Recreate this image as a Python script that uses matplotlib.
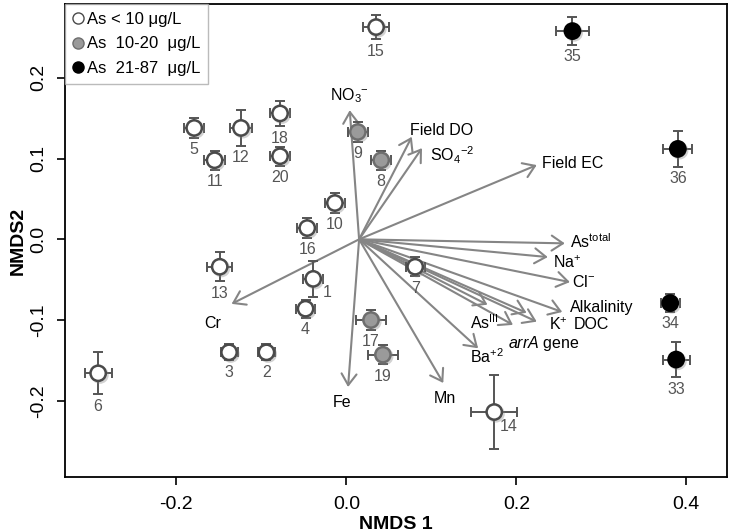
import matplotlib
matplotlib.use("Agg")
import matplotlib.pyplot as plt
import matplotlib.patheffects as pe
from matplotlib.lines import Line2D

plt.rcParams["font.family"] = ["Liberation Sans", "DejaVu Sans"]
plt.rcParams["mathtext.fontset"] = "custom"
plt.rcParams["mathtext.rm"] = "Liberation Sans"
plt.rcParams["mathtext.it"] = "Liberation Sans:italic"
plt.rcParams["mathtext.default"] = "regular"

# sample scores (NMDS 1, NMDS 2) with error half-widths
sites = ["1", "2", "3", "4", "5", "6", "7", "8", "9", "10", "11", "12",
         "13", "14", "15", "16", "17", "18", "19", "20", "33", "34", "35", "36"]
nmds1 = [-0.039, -0.094, -0.138, -0.048, -0.179, -0.292, 0.081, 0.041, 0.0135, -0.0135, -0.155, -0.124,
         -0.149, 0.174, 0.035, -0.046, 0.029, -0.078, 0.043, -0.078, 0.388, 0.381, 0.266, 0.390]
nmds2 = [-0.049, -0.140, -0.140, -0.086, 0.138, -0.166, -0.034, 0.098, 0.133, 0.045, 0.098, 0.138,
         -0.034, -0.214, 0.263, 0.014, -0.100, 0.156, -0.143, 0.103, -0.149, -0.079, 0.258, 0.112]
err1 = [0.012, 0.010, 0.010, 0.011, 0.012, 0.016, 0.011, 0.012, 0.012, 0.012, 0.012, 0.013,
        0.015, 0.027, 0.015, 0.012, 0.018, 0.012, 0.018, 0.012, 0.016, 0.011, 0.019, 0.017]
err2 = [0.022, 0.010, 0.010, 0.011, 0.012, 0.026, 0.012, 0.012, 0.012, 0.012, 0.012, 0.022,
        0.018, 0.046, 0.015, 0.012, 0.012, 0.016, 0.012, 0.012, 0.022, 0.011, 0.017, 0.022]
# As class: 0 = <10, 1 = 10-20, 2 = 21-87 ug/L
as_class = [0, 0, 0, 0, 0, 0, 0, 1, 1, 0, 0, 0,
            0, 0, 0, 0, 1, 0, 1, 0, 2, 2, 2, 2]

# environmental vectors
vec_names = ["NO$_3$$^{-}$", "Field DO", "SO$_4$$^{-2}$", "Field EC", "As$^{total}$", "Na$^{+}$",
             "Cl$^{-}$", "Alkalinity", "DOC", "K$^{+}$", "$\\mathit{arrA}$ gene", "As$^{III}$",
             "Ba$^{+2}$", "Mn", "Fe", "Cr"]
vec1 = [0.004, 0.077, 0.089, 0.224, 0.257, 0.237, 0.263, 0.254, 0.224, 0.212, 0.196, 0.166,
        0.155, 0.114, 0.002, -0.135]
vec2 = [0.160, 0.127, 0.113, 0.092, -0.005, -0.022, -0.053, -0.090, -0.102, -0.091, -0.106, -0.081,
        -0.135, -0.178, -0.183, -0.080]
vec_origin = (0.015, 0.0)

# layout: label anchors for vectors (data coords, ha)
vec_label_pos = [(0.004, 0.178, "center"), (0.075, 0.135, "left"), (0.098, 0.104, "left"),
                 (0.230, 0.094, "left"), (0.263, -0.003, "left"), (0.243, -0.029, "left"),
                 (0.266, -0.053, "left"), (0.263, -0.084, "left"), (0.268, -0.106, "left"),
                 (0.239, -0.106, "left"), (0.190, -0.129, "left"), (0.145, -0.103, "left"),
                 (0.145, -0.146, "left"), (0.116, -0.197, "center"), (-0.005, -0.202, "center"),
                 (-0.157, -0.104, "center")]
right_labels = {"1", "14"}

face = ["white", "#9a9a9a", "black"]
edge = ["#4a4a4a", "#6e6e6e", "black"]
bar_col = "#555555"

fig = plt.figure(figsize=(7.33, 5.32), dpi=100)
ax = fig.add_axes([0.0887, 0.1034, 0.9033, 0.8891])

for i, name in enumerate(vec_names):
    ax.annotate("", xy=(vec1[i], vec2[i]), xytext=vec_origin,
                arrowprops=dict(arrowstyle="->,head_length=0.45,head_width=0.3", color="#858585",
                                lw=1.5, mutation_scale=18, shrinkA=0, shrinkB=0), zorder=2)
    lx, ly, ha = vec_label_pos[i]
    ax.text(lx, ly, name, ha=ha, va="center", fontsize=11.5, color="black", zorder=5)

shadow = [pe.SimpleLineShadow(offset=(1.2, -1.2), shadow_color="gray", alpha=0.35), pe.Normal()]
px = 72 / fig.dpi
for i, s in enumerate(sites):
    c = as_class[i]
    ax.errorbar(nmds1[i], nmds2[i], xerr=err1[i], yerr=err2[i], fmt="none", ecolor=bar_col,
                elinewidth=1.4, capsize=3.5, capthick=1.4, zorder=3)
    ax.plot(nmds1[i], nmds2[i], "o", ms=11, mfc=face[c], mec=edge[c], mew=1.8, zorder=4,
            path_effects=shadow)
    if s in right_labels:
        ax.annotate(s, (nmds1[i], nmds2[i]), xytext=(14 * px, -14 * px), textcoords="offset points",
                    ha="center", va="center", fontsize=11.5, color="#555555", zorder=5)
    else:
        off = err2[i] * 807 + 12
        ax.annotate(s, (nmds1[i], nmds2[i]), xytext=(0, -off * px), textcoords="offset points",
                    ha="center", va="center", fontsize=11.5, color="#555555", zorder=5)

ax.set_xlim(-0.331, 0.448)
ax.set_ylim(-0.2945, 0.2916)
ax.set_xticks([-0.2, 0.0, 0.2, 0.4])
ax.set_yticks([-0.2, -0.1, 0.0, 0.1, 0.2])
ax.set_xticklabels(["-0.2", "0.0", "0.2", "0.4"])
ax.set_yticklabels(["-0.2", "-0.1", "0.0", "0.1", "0.2"], rotation=90, va="center")
ax.tick_params(axis="both", labelsize=14, length=6, width=1.2, direction="out")
ax.tick_params(axis="x", pad=8)
ax.tick_params(axis="y", pad=7)
for sp in ax.spines.values():
    sp.set_linewidth(1.3)
ax.set_xlabel("NMDS 1", fontsize=14, fontweight="bold", labelpad=2)
ax.set_ylabel("NMDS2", fontsize=14, fontweight="bold", labelpad=2)

handles = [Line2D([], [], ls="none", marker="o", ms=8, mfc=face[k], mec=edge[k], mew=1.0)
           for k in range(3)]
leg = ax.legend(handles, ["As < 10 μg/L", "As  10-20  μg/L", "As  21-87  μg/L"], loc="upper left",
                fontsize=12, frameon=True, fancybox=False, borderaxespad=0, handlelength=0.6,
                handletextpad=0.2, labelspacing=0.55, borderpad=0.5)
leg.get_frame().set_edgecolor("#aaaaaa")
leg.get_frame().set_linewidth(1.0)

fig.savefig("out.png", dpi=100)
